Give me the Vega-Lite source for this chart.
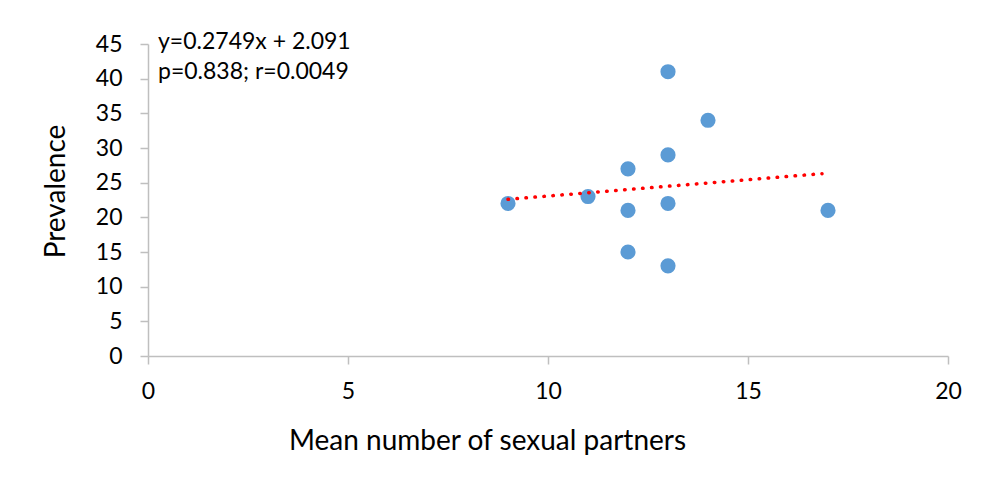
{
  "$schema": "https://vega.github.io/schema/vega-lite/v6.json",
  "autosize": {"type": "none"},
  "width": 800,
  "height": 312,
  "padding": {"left": 148, "top": 44, "right": 44, "bottom": 125},
  "background": "white",
  "config": {
    "view": {"stroke": null},
    "font": "Lato",
    "axis": {
      "grid": false,
      "domainColor": "#bfbfbf",
      "domainWidth": 1.5,
      "tickColor": "#bfbfbf",
      "tickWidth": 1.5,
      "tickSize": 8,
      "labelFont": "Lato",
      "labelFontSize": 23,
      "labelColor": "#000000",
      "labelOverlap": false,
      "labelFlush": false,
      "titleFont": "Lato",
      "titleFontSize": 28,
      "titleFontWeight": "normal",
      "titleColor": "#000000"
    }
  },
  "datasets": {
    "points": [
      {"partners": 9, "prevalence": 22},
      {"partners": 11, "prevalence": 23},
      {"partners": 12, "prevalence": 27},
      {"partners": 12, "prevalence": 21},
      {"partners": 12, "prevalence": 15},
      {"partners": 13, "prevalence": 41},
      {"partners": 13, "prevalence": 29},
      {"partners": 13, "prevalence": 22},
      {"partners": 13, "prevalence": 13},
      {"partners": 14, "prevalence": 34},
      {"partners": 17, "prevalence": 21}
    ],
    "trend": [
      {"partners": 9, "prevalence": 22.6},
      {"partners": 16.85, "prevalence": 26.3}
    ],
    "notes": [
      {"partners": 0.25, "prevalence": 45.3, "label": "y=0.2749x + 2.091"},
      {"partners": 0.25, "prevalence": 40.9, "label": "p=0.838; r=0.0049"}
    ]
  },
  "encoding": {
    "x": {
      "field": "partners", "type": "quantitative",
      "scale": {"domain": [0, 20], "nice": false},
      "axis": {"values": [0, 5, 10, 15, 20], "tickCount": 20, "title": "Mean number of sexual partners", "labelPadding": 16, "titlePadding": 24, "titleX": 339}
    },
    "y": {
      "field": "prevalence", "type": "quantitative",
      "scale": {"domain": [0, 45], "nice": false},
      "axis": {"values": [0, 5, 10, 15, 20, 25, 30, 35, 40, 45], "tickCount": 20, "title": "Prevalence", "labelPadding": 18, "titlePadding": 25, "titleY": 147}
    }
  },
  "layer": [
    {
      "data": {"name": "points"},
      "mark": {"type": "circle", "size": 230, "color": "#5b9bd5", "opacity": 1}
    },
    {
      "data": {"name": "trend"},
      "mark": {"type": "line", "color": "#ff0000", "strokeWidth": 3.5, "strokeDash": [0.5, 8.5], "strokeCap": "round"}
    },
    {
      "data": {"name": "notes"},
      "mark": {"type": "text", "align": "left", "baseline": "middle", "fontSize": 23, "font": "Lato", "color": "#000000"},
      "encoding": {
        "text": {"field": "label"}
      }
    }
  ]
}
